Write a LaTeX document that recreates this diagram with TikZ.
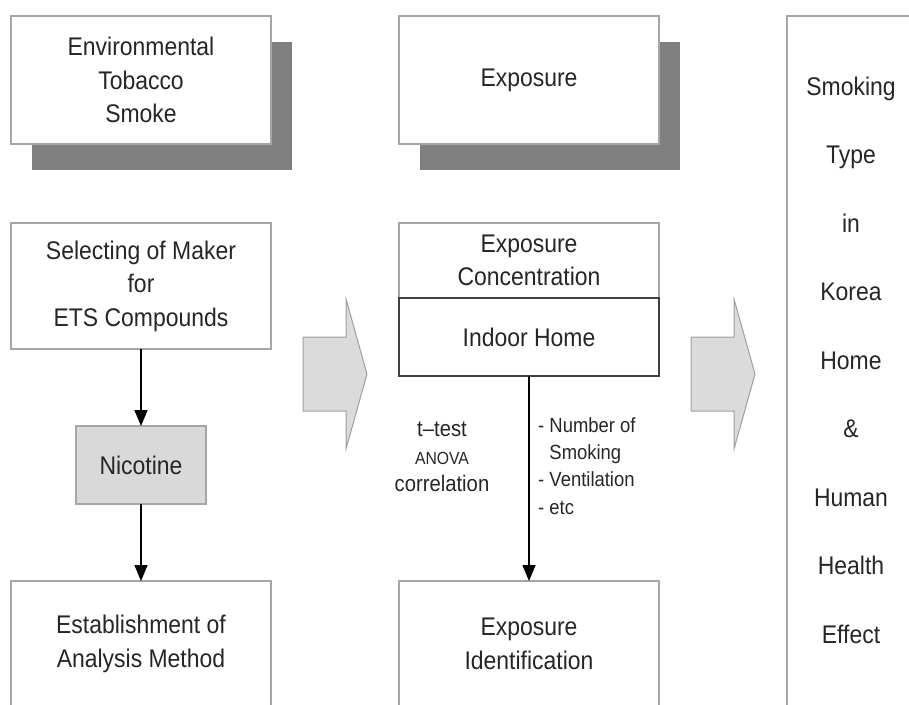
\documentclass[tikz,border=0pt]{standalone}
\usepackage{fontspec}
\setmainfont{Liberation Sans}[FakeStretch=0.9]
\usetikzlibrary{positioning,arrows.meta,shadows}

\begin{document}
\begin{tikzpicture}[x=1pt,y=-1pt,
  font=\fontsize{25.5}{33.5}\selectfont,
  box/.style={draw=gray!70,line width=1.3pt,fill=white,align=center,text=black!85,
    minimum width=260pt,inner sep=0pt,outer sep=0pt},
  boxshadow/.style={drop shadow={shadow xshift=21pt,shadow yshift=-26pt,fill=black!50,opacity=1}},
  small/.style={font=\fontsize{20.5}{27.3}\selectfont,text=black!85,inner sep=0pt},
  flow/.style={-{Triangle[width=13pt,length=16pt]},line width=1.5pt},
  big_arrow/.style={fill=gray!28,draw=gray!75,line width=1pt}
  ]
  \path[use as bounding box,clip] (0,0) rectangle (909,704);

  % top row
  \node[box,boxshadow,minimum height=128pt] (ets) at (141,80) {Environmental\\Tobacco\\Smoke};
  \node[box,boxshadow,minimum height=128pt] (exposure) at (529,80) {Exposure};

  % left column
  \node[box,minimum height=126pt] (marker) at (141,286) {Selecting of Maker\\for\\ETS Compounds};
  \node[box,fill=gray!30,minimum width=130pt,minimum height=78pt] (nicotine) at (141,465) {Nicotine};
  \node[box,minimum height=126pt] (method) at (141,644) {Establishment of\\Analysis Method};
  \draw[flow] (marker) -- (nicotine);
  \draw[flow] (nicotine) -- (method);

  % middle column
  \node[box,minimum height=75pt,anchor=north] (conc) at (529,223) {Exposure\\Concentration};
  \node[box,draw=black!75,line width=2pt,minimum height=78pt,below=0pt of conc] (indoor) {Indoor Home};
  \node[box,minimum height=126pt] (ident) at (529,644) {Exposure\\Identification};
  \draw[flow] (indoor) -- (ident);

  \node[small,align=center,font=\fontsize{22.5}{27.5}\selectfont] (tests) at (442,457)
    {t--test\\{\fontsize{17.5}{27.5}\selectfont ANOVA}\\correlation};
  \node[small,align=left,anchor=west] (factors) at (538,466)
    {- Number of\\\phantom{- }Smoking\\- Ventilation\\- etc};

  % right column
  \node[box,anchor=north west,minimum width=160pt,minimum height=720pt] (outcome_box) at (787,16) {};
  \node[align=center,text=black!85,font=\fontsize{25.5}{68.5}\selectfont] (outcome) at (851,360)
    {Smoking\\Type\\in\\Korea\\Home\\\&\\Human\\Health\\Effect};

  % big arrows
  \foreach \ax in {303,691}
    \draw[big_arrow] (\ax,337) -- (\ax+43,337) -- (\ax+43,299) -- (\ax+64,374)
      -- (\ax+43,449) -- (\ax+43,411) -- (\ax,411) -- cycle;
\end{tikzpicture}
\end{document}
